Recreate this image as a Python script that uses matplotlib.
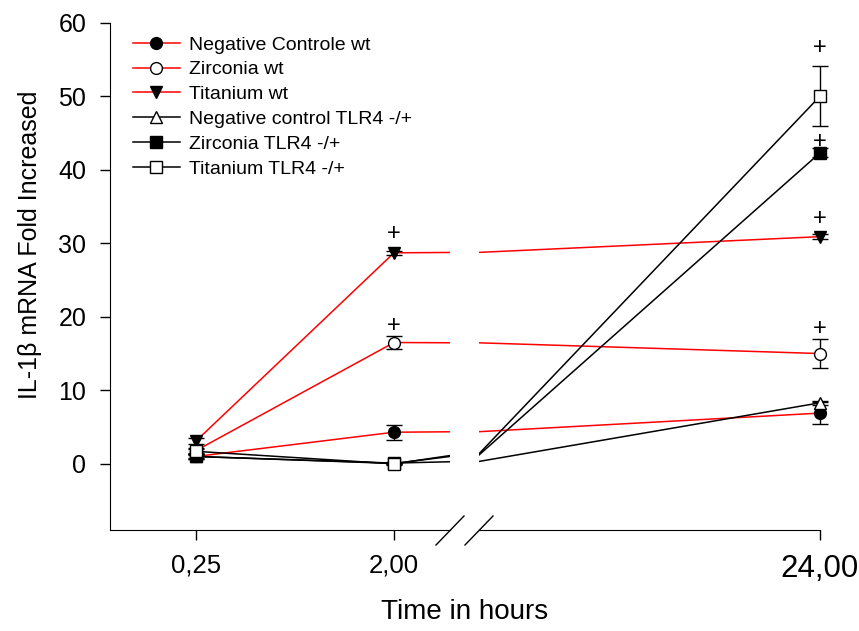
import matplotlib
matplotlib.use("Agg")
import matplotlib.pyplot as plt
from matplotlib.lines import Line2D

plt.rcParams['font.family'] = ['Liberation Sans', 'DejaVu Sans']

# ---- data ----
times = [0.25, 2.0, 24.0]
time_labels_left = ['0,25', '2,00']
time_labels_right = ['24,00']

neg_wt = [1.0, 4.3, 6.9]
neg_wt_err = [0.3, 1.0, 1.5]
zr_wt = [1.8, 16.5, 15.0]
zr_wt_err = [0.3, 0.9, 2.0]
ti_wt = [3.1, 28.7, 30.9]
ti_wt_err = [0.4, 0.3, 0.3]
neg_tlr = [1.0, 0.1, 8.3]
neg_tlr_err = [0.2, 0.1, 0.3]
zr_tlr = [1.0, 0.05, 42.3]
zr_tlr_err = [0.3, 0.1, 0.6]
ti_tlr = [1.7, 0.0, 50.0]
ti_tlr_err = [0.3, 0.1, 4.1]

labels = ['Negative Controle wt', 'Zirconia wt', 'Titanium wt',
          'Negative control TLR4 -/+', 'Zirconia TLR4 -/+', 'Titanium TLR4 -/+']

# significance marks (x, y)
plus_x = [2.0, 2.0, 24.0, 24.0, 24.0, 24.0]
plus_y = [31.3, 18.8, 56.5, 43.8, 33.3, 18.4]

series = [
    (neg_wt, neg_wt_err, 'red', 'o', 'black'),
    (zr_wt, zr_wt_err, 'red', 'o', 'white'),
    (ti_wt, ti_wt_err, 'red', 'v', 'black'),
    (neg_tlr, neg_tlr_err, 'black', '^', 'white'),
    (zr_tlr, zr_tlr_err, 'black', 's', 'black'),
    (ti_tlr, ti_tlr_err, 'black', 's', 'white'),
]

W, H = 859, 631
fig = plt.figure(figsize=(W / 100, H / 100), dpi=100)

ybot, ytop = 530, 22.7
axL = fig.add_axes([110 / W, 1 - ybot / H, (450 - 110) / W, (ybot - ytop) / H])
axR = fig.add_axes([479 / W, 1 - ybot / H, (820 - 479) / W, (ybot - ytop) / H])

ms = 8.5
for vals, err, col, mk, fc in series:
    for ax in (axL, axR):
        ax.plot(times, vals, color=col, lw=1.1, zorder=2)
    axL.errorbar(times[:2], vals[:2], yerr=err[:2], fmt=mk, mfc=fc, mec='black',
                 ms=ms, mew=1, ecolor='black', elinewidth=1, capsize=6, capthick=1,
                 clip_on=False, zorder=3)
    axR.errorbar(times[2:], vals[2:], yerr=err[2:], fmt=mk, mfc=fc, mec='black',
                 ms=ms, mew=1, ecolor='black', elinewidth=1, capsize=6, capthick=1,
                 clip_on=False, zorder=3)

for px, py in zip(plus_x, plus_y):
    ax = axL if px < 10 else axR
    ax.text(px, py, '+', ha='center', va='center', fontsize=17, clip_on=False)

for ax in (axL, axR):
    ax.set_ylim(-9, 60)
    ax.spines['top'].set_visible(False)
    ax.spines['right'].set_visible(False)
    ax.tick_params(direction='out', length=7, width=1, labelsize=18, pad=10)

axL.set_xlim(-0.51, 2.495)
axR.set_xlim(2.6, 24.0)
axL.set_xticks([0.25, 2.0])
axL.set_xticklabels(time_labels_left, fontsize=18.5)
axR.set_xticks([24.0])
axR.set_xticklabels(time_labels_right, fontsize=22.5)
axL.set_yticks([0, 10, 20, 30, 40, 50, 60])
axR.spines['left'].set_visible(False)
axR.yaxis.set_visible(False)
axR.patch.set_alpha(0)

# axis break marks
for xb in (450, 479):
    fig.add_artist(Line2D([(xb - 14) / W, (xb + 14) / W], [1 - 545 / H, 1 - 516 / H],
                          color='black', lw=1, transform=fig.transFigure))

fig.text(465 / W, 1 - 612 / H, 'Time in hours', ha='center', va='center', fontsize=20)
fig.text(30 / W, 1 - 245 / H, 'IL-1β mRNA Fold Increased', ha='center', va='center',
         rotation=90, fontsize=18)

handles = [Line2D([], [], color=col, marker=mk, mfc=fc, mec='black', ms=ms, mew=1, lw=1.1)
           for _, _, col, mk, fc in series]
fig.legend(handles, labels, loc='upper left', bbox_to_anchor=(133 / W, 1 - 36 / H),
           frameon=False, fontsize=14, handlelength=2.4, handletextpad=0.5,
           labelspacing=0.37, borderpad=0, borderaxespad=0)

fig.savefig('out.png', dpi=100)
